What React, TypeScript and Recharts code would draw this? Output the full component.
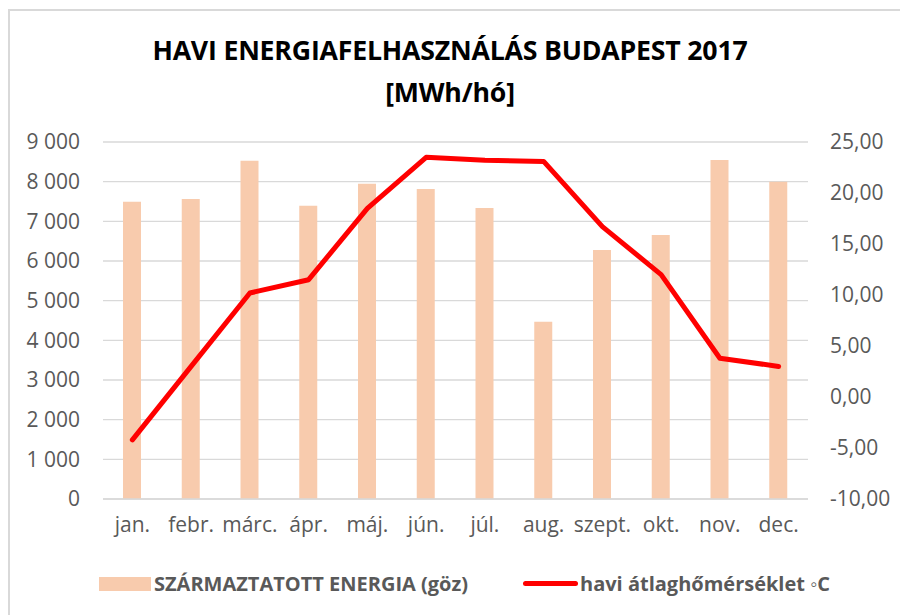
import { Bar, CartesianGrid, ComposedChart, Line, XAxis, YAxis } from "recharts";

const months = ["jan.", "febr.", "márc.", "ápr.", "máj.", "jún.", "júl.", "aug.", "szept.", "okt.", "nov.", "dec."];
const energy = [7494, 7562, 8528, 7394, 7948, 7815, 7336, 4470, 6277, 6655, 8546, 7999];
const temperature = [-4.2, 3.0, 10.2, 11.5, 18.5, 23.5, 23.2, 23.1, 16.7, 12.0, 3.8, 3.0];
const energyTicks = [0, 1000, 2000, 3000, 4000, 5000, 6000, 7000, 8000, 9000];
const tempTicks = [-10, -5, 0, 5, 10, 15, 20, 25];

const titleLines = ["HAVI ENERGIAFELHASZNÁLÁS BUDAPEST 2017", "[MWh/hó]"];
const energyName = "SZÁRMAZTATOTT ENERGIA (göz)";
const tempName = "havi átlaghőmérséklet ◦C";

const BAR_COLOR = "#F8CBAD";
const LINE_COLOR = "#FF0000";
const TEXT_COLOR = "#595959";
const GRID_COLOR = "#D9D9D9";
const FONT = "'Open Sans', sans-serif";

const data = months.map((month, i) => ({
  month,
  energy: energy[i],
  temp: temperature[i],
}));

const formatThousands = (v: number) =>
  String(v).replace(/\B(?=(\d{3})+(?!\d))/g, " ");
const formatTemp = (v: number) => v.toFixed(2).replace(".", ",");

const tickStyle = { fill: TEXT_COLOR, fontSize: 21, fontFamily: FONT };

export default function App() {
  return (
    <div
      style={{
        position: "absolute",
        left: 0,
        top: 0,
        width: 900,
        height: 615,
        background: "#fff",
        fontFamily: FONT,
        overflow: "hidden",
      }}
    >
      {/* chart frame, only its top-left corner is in view */}
      <div
        style={{
          position: "absolute",
          left: 8,
          top: 9,
          width: 920,
          height: 640,
          border: `2px solid ${GRID_COLOR}`,
        }}
      />
      <div
        style={{
          position: "absolute",
          top: 29,
          left: 0,
          width: 900,
          textAlign: "center",
          fontWeight: 700,
          fontSize: 26.7,
          lineHeight: "42px",
          color: "#000",
          letterSpacing: -0.2,
        }}
      >
        {titleLines.map((line) => (
          <div key={line}>{line}</div>
        ))}
      </div>
      <ComposedChart
        width={900}
        height={615}
        data={data}
        margin={{ top: 142, right: 0, bottom: 86, left: 0 }}
      >
        <CartesianGrid
          yAxisId="left"
          vertical={false}
          stroke={GRID_COLOR}
          strokeWidth={1.3}
        />
        <XAxis
          dataKey="month"
          height={30}
          axisLine={{ stroke: GRID_COLOR, strokeWidth: 1.3 }}
          tickLine={false}
          tick={tickStyle}
          tickMargin={12}
          interval={0}
        />
        <YAxis
          yAxisId="left"
          width={103}
          domain={[0, 9000]}
          ticks={energyTicks}
          tickFormatter={formatThousands}
          axisLine={false}
          tickLine={false}
          tick={tickStyle}
          tickMargin={17}
        />
        <YAxis
          yAxisId="right"
          orientation="right"
          width={92}
          domain={[-10, 25]}
          ticks={tempTicks}
          tickFormatter={formatTemp}
          axisLine={false}
          tickLine={false}
          tick={{ ...tickStyle, textAnchor: "start" }}
          tickMargin={16}
        />
        <Bar
          yAxisId="left"
          dataKey="energy"
          name={energyName}
          fill={BAR_COLOR}
          barSize={18}
          isAnimationActive={false}
        />
        <Line
          yAxisId="right"
          dataKey="temp"
          name={tempName}
          type="linear"
          stroke={LINE_COLOR}
          strokeWidth={5}
          strokeLinecap="round"
          strokeLinejoin="round"
          dot={false}
          activeDot={false}
          isAnimationActive={false}
        />
      </ComposedChart>
      <div
        style={{
          position: "absolute",
          top: 570,
          left: 0,
          width: 900,
          height: 27,
          display: "flex",
          alignItems: "center",
          fontWeight: 700,
          fontSize: 20,
          color: TEXT_COLOR,
        }}
      >
        <span
          style={{
            marginLeft: 99,
            width: 52,
            height: 14,
            background: BAR_COLOR,
            display: "inline-block",
          }}
        />
        <span style={{ marginLeft: 3 }}>{energyName}</span>
        <span
          style={{
            position: "absolute",
            left: 523,
            width: 55,
            height: 5,
            borderRadius: 3,
            background: LINE_COLOR,
          }}
        />
        <span style={{ position: "absolute", left: 580 }}>{tempName}</span>
      </div>
    </div>
  );
}
